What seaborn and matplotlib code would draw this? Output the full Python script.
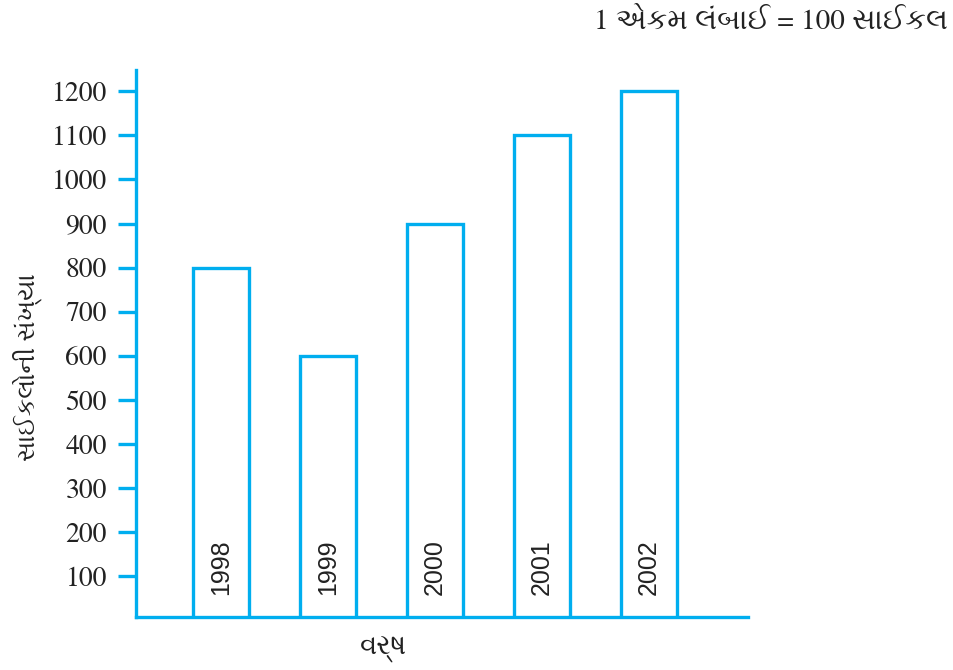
import pandas as pd
import matplotlib.pyplot as plt
import seaborn as sns

sns.set_style('white')
plt.rcParams['font.family'] = ['FreeSerif', 'Liberation Serif', 'Noto Sans Gujarati UI', 'DejaVu Sans']

# data
years = ['1998', '1999', '2000', '2001', '2002']
cycles = [800, 600, 900, 1100, 1200]
y_ticks = [100, 200, 300, 400, 500, 600, 700, 800, 900, 1000, 1100, 1200]

title_text = '1 એકમ લંબાઈ = 100 સાઈકલ'
x_label = 'વર્ષ'
y_label = 'સાઈકલોની સંખ્યા'

blue = '#00aeef'

df = pd.DataFrame({'year': years, 'cycles': cycles})

fig = plt.figure(figsize=(9.54, 6.70), dpi=100)
ax = fig.add_axes([136/954, (670-617)/670, (748-136)/954, (617-70)/670])

sns.barplot(data=df, x='year', y='cycles', order=years, color='white',
            edgecolor=blue, linewidth=2.4, width=0.52, ax=ax)

# year labels inside the bars
for i, yr in enumerate(years):
    ax.text(i, 57, yr, rotation=90, ha='center', va='bottom',
            fontsize=18, family=['Liberation Sans', 'DejaVu Sans'], color='#222222')

ax.set_xlim(-0.794, 4.925)
ax.set_ylim(8, 1248)
ax.set_yticks(y_ticks)
ax.set_yticklabels([str(v) for v in y_ticks], fontsize=20, color='#222222')
ax.set_xticks([])
ax.tick_params(axis='y', direction='out', length=13, width=2.4, color=blue, pad=8, left=True)

for side in ['top', 'right']:
    ax.spines[side].set_visible(False)
for side in ['left', 'bottom']:
    ax.spines[side].set_color(blue)
    ax.spines[side].set_linewidth(2.4)

ax.set_xlabel('')
ax.set_ylabel('')
fig.text(27/954, 1 - 367/670, y_label, rotation=90, ha='center', va='center',
         fontsize=18, color='#222222')
fig.text(383/954, 1 - 650/670, x_label, ha='center', va='center',
         fontsize=20, color='#222222')
fig.text(948/954, 1 - 22/670, title_text, ha='right', va='center',
         fontsize=21, color='#222222')

fig.savefig('out.png', dpi=100)
